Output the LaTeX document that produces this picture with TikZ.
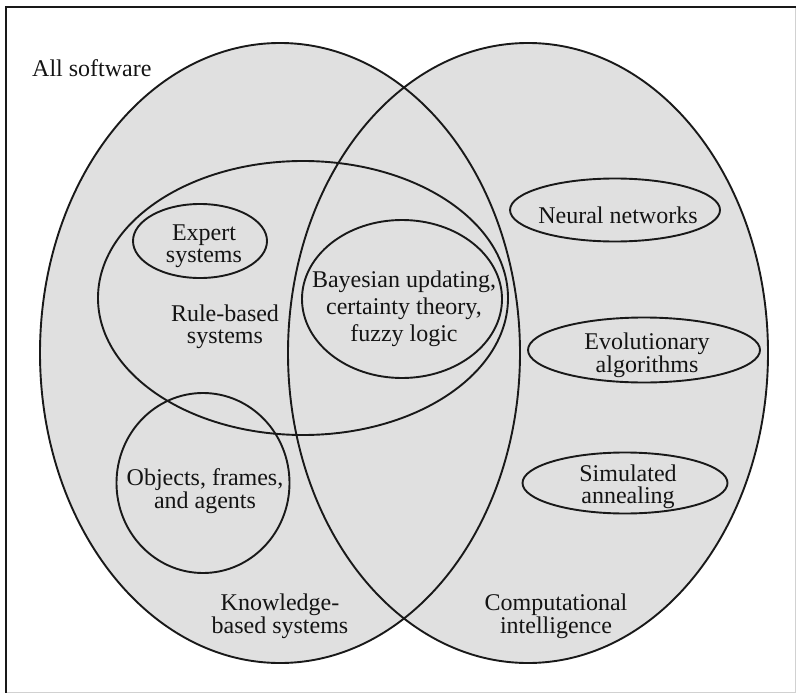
\documentclass[tikz,border=0pt]{standalone}
\usepackage{fontspec}
\setmainfont{Liberation Serif}
\usetikzlibrary{shapes.geometric}
\begin{document}
\begin{tikzpicture}[x=1bp,y=-1bp,
  ring/.style={draw=black!90, line width=1.9bp, ellipse, inner sep=0pt, outer sep=0pt},
  lbl/.style={align=center, inner sep=0pt, anchor=base, text=black!92,
    font=\fontsize{24bp}{21.5bp}\selectfont},
  area/.style={fill=black!12}]
\useasboundingbox (0,0) rectangle (796,693);

% outer frame
\draw[black!18, line width=1bp] (795.5,6) -- (795.5,692.5) -- (6,692.5);
\draw[black!90, line width=2.6bp] (6,692.5) -- (6,7) -- (796,7);

% shaded regions of the two main sets
\fill[area] (280,353) ellipse [x radius=240, y radius=310];
\fill[area] (528,353) ellipse [x radius=240, y radius=310];

% set outlines
\node[ring, minimum width=480bp, minimum height=620bp] (kbs) at (280,353) {};
\node[ring, minimum width=480bp, minimum height=620bp] (ci)  at (528,353) {};
\node[ring, minimum width=410bp, minimum height=274bp] (rbs) at (303,298) {};
\node[ring, minimum width=134bp, minimum height=74bp]  (es)  at (200,241) {};
\node[ring, minimum width=200bp, minimum height=158bp] (bay) at (402,299) {};
\node[ring, minimum width=173bp, minimum height=180bp] (obj) at (203,483) {};
\node[ring, minimum width=210bp, minimum height=63bp]  (nn)  at (615,210) {};
\node[ring, minimum width=232bp, minimum height=65bp]  (ea)  at (644,350) {};
\node[ring, minimum width=205bp, minimum height=61bp]  (sa)  at (625,483) {};

% labels (multi-line labels sit on the baseline of their last line)
\node[lbl, anchor=base west] (tall) at (32,77) {All software};
\node[lbl] (tes)  at (204,262) {Expert\\systems};
\node[lbl] (trbs) at (225,343) {Rule-based\\systems};
\node[lbl, font=\fontsize{24bp}{27bp}\selectfont] (tbay) at (404,341)
  {Bayesian updating,\\certainty theory,\\fuzzy logic};
\node[lbl] (tobj) at (205,508) {Objects, frames,\\and agents};
\node[lbl] (tkbs) at (280,633) {Knowledge-\\based systems};
\node[lbl] (tci)  at (556,633) {Computational\\intelligence};
\node[lbl] (tnn)  at (618,223) {Neural networks};
\node[lbl] (tea)  at (647,372) {Evolutionary\\algorithms};
\node[lbl] (tsa)  at (628,503) {Simulated\\annealing};
\end{tikzpicture}
\end{document}
